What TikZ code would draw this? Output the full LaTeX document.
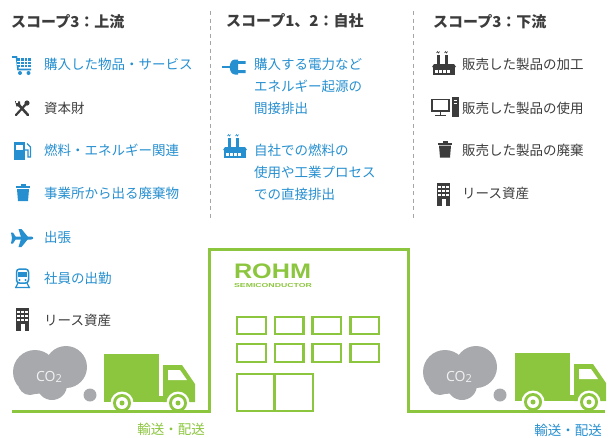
\documentclass[tikz,border=0pt]{standalone}
\usepackage{fontspec}
\newfontfamily\jp{Noto Sans CJK JP}
\newfontfamily\logo{Liberation Sans}
\newfontfamily\gasfont{Open Sans}

\definecolor{scopeblue}{RGB}{38,143,208}
\definecolor{scopedark}{RGB}{60,60,60}
\definecolor{rohmgreen}{RGB}{140,198,63}
\definecolor{smoke}{RGB}{167,169,172}
\definecolor{smoketext}{RGB}{242,242,242}
\definecolor{divider}{RGB}{165,165,165}

\begin{document}
\begin{tikzpicture}[x=1pt,y=-1pt]
    \tikzset{
      heading/.style={anchor=west, inner sep=0pt, text=scopedark,
        font=\jp\bfseries\fontsize{15}{18}\selectfont},
      item/.style={anchor=west, inner sep=0pt, text=scopeblue, align=left,
        font=\jp\fontsize{13.5}{22}\selectfont},
      plain item/.style={item, text=scopedark},
      outline/.style={draw=rohmgreen, line width=3pt},
      window/.style={draw=rohmgreen, line width=2.5pt},
      % small icons, drawn in the colour given to the pic
      bin/.pic={
        \fill (-2.5,-8.5) rectangle (2.5,-6.5);
        \fill (-7,-6.5) rectangle (7,-4.5);
        \fill (-6,-3.5) -- (6,-3.5) -- (5,8.5) -- (-5,8.5) -- cycle;
      },
      tower/.pic={
        \fill (-6.5,-11.5) rectangle (6.5,11.5);
        \foreach \i in {-1,0,1}
          \foreach \j in {-8.5,-4.5,-0.5}
            \fill[white] (\i*4-1.3,\j) rectangle ++(2.6,2.4);
        \fill[white] (-2,5) rectangle (2,11.5);
      },
      plant/.pic={
        \fill (-7,-8) rectangle (-4.5,1);
        \fill (1,-8) rectangle (3.5,1);
        \draw[line width=0.6pt] (-7.5,-10) -- (-6.5,-11.5) -- (-5.5,-10) -- (-4.5,-11.5)
                                (0.5,-10) -- (1.5,-11.5) -- (2.5,-10) -- (3.5,-11.5);
        \fill (-12,4) -- (-10,1) -- (10,1) -- (12,4) -- cycle;
        \fill (-11,4) rectangle (11,12);
        \foreach \x in {-9,-5,-1,3}
          \fill[white] (\x,6.5) rectangle ++(2.8,3);
      },
      % delivery lorry, origin at the top left of the box
      lorry/.pic={
        \fill[rohmgreen] (0,0) rectangle (55,48);
        \fill[rohmgreen] (55,42) rectangle (60,48);
        \fill[rohmgreen] (59,11) -- (78,11) -- (91,30) -- (91,48) -- (59,48) -- cycle;
        \fill[white] (64,16) -- (76,16) -- (83,26) -- (64,26) -- cycle;
        \foreach \w in {18,74} {
          \fill[white] (\w,49) circle (11.5pt);
          \fill[rohmgreen] (\w,49) circle (9pt);
          \fill[white] (\w,49) circle (6pt);
          \fill[rohmgreen] (\w,49) circle (2.5pt);
        }
      },
      % exhaust cloud, origin at its middle
      exhaust/.pic={
        \fill[smoke] (-15,-1) circle (22pt) (16,-6) circle (21pt)
                     (2,12) circle (15pt) (-20,10) circle (12pt);
        \fill[smoke] (40,22) circle (6.5pt);
        \node[text=smoketext, font=\gasfont\fontsize{14}{14}\selectfont]
          at (-1,4) {CO\raisebox{-1.5pt}{\fontsize{11}{11}\selectfont 2}};
      },
    }

    \useasboundingbox (0,0) rectangle (615,437);

    % Draw the dividers between the three scopes
    \draw[divider, line width=0.9pt, dash pattern=on 4pt off 3.5pt] (210,11) -- (210,218);
    \draw[divider, line width=0.9pt, dash pattern=on 4pt off 3.5pt] (413,11) -- (413,218);

    % Headings
    \node[heading] (up) at (11,22) {スコープ3：上流};
    \node[heading] (own) at (226,21) {スコープ1、2：自社};
    \node[heading] (down) at (433,22) {スコープ3：下流};

    % Upstream
    \node[item] (up1) at (44,64) {購入した物品・サービス};
    \node[plain item] (up2) at (44,108) {資本財};
    \node[item] (up3) at (44,150) {燃料・エネルギー関連};
    \node[item] (up4) at (44,193) {事業所から出る廃棄物};
    \node[item] (up5) at (44,237) {出張};
    \node[item] (up6) at (44,278) {社員の出勤};
    \node[plain item] (up7) at (44,320) {リース資産};

    % cart
    \begin{scope}[scopeblue]
      \draw[line width=1.6pt] (12,57) -- (16.5,57) -- (18,69.5) -- (31,69.5);
      \fill (17,58) rectangle (31,67);
      \draw[white, line width=0.6pt] (20.5,58) -- (20.5,67) (24,58) -- (24,67) (27.5,58) -- (27.5,67)
                                     (17,61) -- (31,61) (17,64) -- (31,64);
      \fill (20,73) circle (2pt) (28.5,73) circle (2pt);
    \end{scope}
    % tools
    \begin{scope}[scopedark, line cap=round]
      \draw[line width=2.6pt] (17.5,103.5) -- (28,115);
      \draw[line width=2.2pt] (27,103) -- (16,115);
      \fill (27,103) circle (2.6pt);
      \fill (15,101) -- (20,101.5) -- (20.5,106) -- (16.5,106.5) -- cycle;
      \fill[white] (16.2,101) rectangle (18.2,103.2);
    \end{scope}
    % fuel pump
    \begin{scope}[scopeblue]
      \fill (14,142) rectangle (25,160);
      \fill[white] (16,144.5) rectangle (23,150);
      \draw[line width=1.2pt] (25,150) -- (28,150) -- (28,157) -- (30.5,157) -- (30.5,147) -- (27,143.5);
    \end{scope}
    \pic[scopeblue] (bin1) at (23,192.5) {bin};
    % plane
    \begin{scope}[scopeblue]
      \fill (13,236.5) -- (31,236.5) .. controls (34,236.5) and (34,239.5) .. (31,239.5) -- (13,239.5) -- cycle;
      \fill (21,237) -- (18.5,229) -- (21.5,229) -- (28,237) -- cycle;
      \fill (21,239) -- (18.5,247) -- (21.5,247) -- (28,239) -- cycle;
      \fill (12,238) -- (11,232.5) -- (13,232.5) -- (16.5,238) -- (13,243.5) -- (11,243.5) -- cycle;
    \end{scope}
    % train
    \begin{scope}[scopeblue]
      \draw[line width=1.5pt, rounded corners=3pt] (16.5,269) rectangle (28.5,283);
      \fill (18,272) rectangle (27,277);
      \fill (19.5,280) circle (1.1pt) (25.5,280) circle (1.1pt);
      \draw[line width=1.3pt] (18,283) -- (15.5,288) (27,283) -- (29.5,288) (15,287.5) -- (30,287.5);
    \end{scope}
    \pic[scopedark] (tower1) at (22.5,319) {tower};

    % Own operations
    \node[item] (own1) at (254,86) {購入する電力など\\エネルギー起源の\\間接排出};
    \node[item] (own2) at (254,172) {自社での燃料の\\使用や工業プロセス\\での直接排出};

    % plug
    \begin{scope}[scopeblue]
      \draw[line width=2pt] (222,67) -- (231,67);
      \fill (238,59.5) -- (238,74.5) -- (235,74.5) .. controls (228,74.5) and (228,59.5) .. (235,59.5) -- cycle;
      \fill (238,61) rectangle (245.5,63.8) (238,70.2) rectangle (245.5,73);
    \end{scope}
    \pic[scopeblue] (plant1) at (235,146) {plant};

    % Downstream
    \node[plain item] (down1) at (462,64) {販売した製品の加工};
    \node[plain item] (down2) at (462,108) {販売した製品の使用};
    \node[plain item] (down3) at (462,150) {販売した製品の廃棄};
    \node[plain item] (down4) at (462,193) {リース資産};

    \pic[scopedark] (plant2) at (444,63) {plant};
    % computer
    \begin{scope}[scopedark]
      \draw[line width=1.5pt] (432,99.5) rectangle (449,111);
      \draw[line width=1.8pt] (440.5,111) -- (440.5,114.5) (435,115.5) -- (446,115.5);
      \fill (452,97) rectangle (458.5,116.5);
      \draw[white, line width=0.7pt] (453.5,100) -- (457,100) (453.5,103) -- (457,103);
    \end{scope}
    \pic[scopedark] (bin2) at (445,149) {bin};
    \pic[scopedark] (tower2) at (443.5,194) {tower};

    % Transport on both sides
    \pic (cloud1) at (50,373) {exhaust};
    \pic (cloud2) at (460,373) {exhaust};
    \pic (truck1) at (104,354) {lorry};
    \pic (truck2) at (515,353) {lorry};

    % The plant itself
    \draw[outline] (12,411) -- (209,411) -- (209,249.5) -- (408,249.5) -- (408,411) -- (605,411);
    \node[text=rohmgreen, inner sep=0pt, font=\logo\bfseries\fontsize{21}{21}\selectfont]
      (rohm) at (272.5,271) {\scalebox{1.2}[1]{ROHM}};
    \node[text=rohmgreen, inner sep=0pt, font=\logo\bfseries\fontsize{5.8}{6}\selectfont]
      (semi) at (273,285) {\scalebox{1.5}[1]{SEMICONDUCTOR}};
    \foreach \c in {0,...,3} {
      \draw[window] (237.2+37.7*\c,317.2) rectangle ++(28.6,17);
      \draw[window] (237.2+37.7*\c,344.2) rectangle ++(28.6,17.6);
    }
    \draw[window] (237.2,374.2) rectangle (312.8,411);
    \draw[window] (274.5,374.2) -- (274.5,411);

    \node[text=rohmgreen, inner sep=0pt, font=\jp\fontsize{13.5}{14}\selectfont] (move1) at (171,429) {輸送・配送};
    \node[text=scopeblue, inner sep=0pt, font=\jp\fontsize{13.5}{14}\selectfont] (move2) at (568,430) {輸送・配送};
\end{tikzpicture}
\end{document}
